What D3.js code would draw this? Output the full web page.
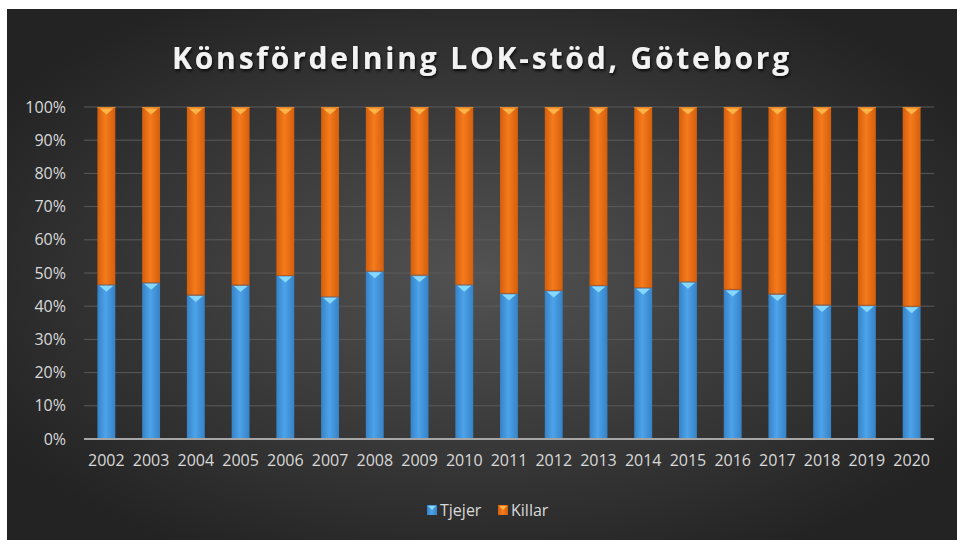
<!DOCTYPE html>
<html>
<head>
<meta charset="utf-8">
<script src="https://cdn.jsdelivr.net/npm/d3@7"></script>
<style>
  body { margin: 0; background: #fff; }
  text { font-family: "Open Sans", "DejaVu Sans", sans-serif; }
</style>
</head>
<body>
<div id="chart"></div>
<script>
const years = ["2002", "2003", "2004", "2005", "2006", "2007", "2008", "2009", "2010", "2011",
               "2012", "2013", "2014", "2015", "2016", "2017", "2018", "2019", "2020"];
const tjejer = [46.6, 47.2, 43.5, 46.5, 49.4, 43.0, 50.7, 49.5, 46.6, 44.0,
                44.9, 46.4, 45.7, 47.5, 45.2, 43.8, 40.5, 40.4, 40.1];
const killar = tjejer.map(v => 100 - v);
const seriesNames = ["Tjejer", "Killar"];
const yTicks = [0, 10, 20, 30, 40, 50, 60, 70, 80, 90, 100];

const W = 957, H = 540;
const margin = { left: 84, right: 23, top: 107, bottom: 101 };

const svg = d3.select("#chart").append("svg")
    .attr("width", W)
    .attr("height", H);

const defs = svg.append("defs");

// background
const bg = defs.append("radialGradient")
    .attr("id", "bg-grad")
    .attr("cx", "50%").attr("cy", "50%").attr("r", "60%");
bg.append("stop").attr("offset", "0%").attr("stop-color", "#525252");
bg.append("stop").attr("offset", "100%").attr("stop-color", "#232323");

svg.append("rect")
    .attr("x", 7).attr("y", 9)
    .attr("width", W - 7).attr("height", H - 9)
    .attr("fill", "url(#bg-grad)");

// bar gradients
function barGradient(id, edge, mid) {
    const g = defs.append("linearGradient")
        .attr("id", id)
        .attr("x1", "0%").attr("x2", "100%").attr("y1", "0%").attr("y2", "0%");
    g.append("stop").attr("offset", "0%").attr("stop-color", edge);
    g.append("stop").attr("offset", "45%").attr("stop-color", mid);
    g.append("stop").attr("offset", "100%").attr("stop-color", edge);
}
barGradient("blue-grad", "#3682c6", "#4da3ea");
barGradient("orange-grad", "#d45e0c", "#f57b1c");

const shadow = defs.append("filter").attr("id", "title-shadow")
    .attr("x", "-5%").attr("y", "-20%").attr("width", "110%").attr("height", "140%");
shadow.append("feDropShadow")
    .attr("dx", 1).attr("dy", 2).attr("stdDeviation", 1.5)
    .attr("flood-color", "#000").attr("flood-opacity", 0.8);

// title
svg.append("text")
    .attr("x", 482)
    .attr("y", 69)
    .attr("text-anchor", "middle")
    .attr("fill", "#f2f2f2")
    .attr("filter", "url(#title-shadow)")
    .style("font-size", "30px")
    .style("font-weight", "bold")
    .style("letter-spacing", "2.8px")
    .text("Könsfördelning LOK-stöd, Göteborg");

const x = d3.scaleBand()
    .domain(years)
    .range([margin.left, W - margin.right])
    .paddingInner(0.6)
    .paddingOuter(0.3);

const y = d3.scaleLinear()
    .domain([0, 100])
    .range([H - margin.bottom, margin.top]);

// grid
svg.append("g")
    .selectAll("line")
    .data(yTicks.filter(d => d > 0))
    .enter()
    .append("line")
    .attr("x1", margin.left)
    .attr("x2", W - margin.right)
    .attr("y1", d => y(d))
    .attr("y2", d => y(d))
    .attr("stroke", "#5a5a5a")
    .attr("stroke-width", 1);

// y axis labels
const yAxis = svg.append("g")
    .attr("transform", `translate(${margin.left - 18},0)`)
    .call(d3.axisLeft(y).tickValues(yTicks).tickFormat(d => d + "%").tickSize(0));
yAxis.select(".domain").remove();
yAxis.selectAll("text")
    .attr("fill", "#d9d9d9")
    .attr("x", 0)
    .style("font-size", "16px");

// stacked bars
const rows = years.map((yr, i) => ({ year: yr, Tjejer: tjejer[i], Killar: killar[i] }));
const stack = d3.stack().keys(seriesNames)(rows);
const fills = { Tjejer: "url(#blue-grad)", Killar: "url(#orange-grad)" };
const tips = { Tjejer: "#86d8ff", Killar: "#ffb44a" };

const layers = svg.append("g")
    .selectAll("g")
    .data(stack)
    .enter()
    .append("g");

layers.selectAll("rect")
    .data(d => d.map(p => ({ key: d.key, p })))
    .enter()
    .append("rect")
    .attr("x", d => x(d.p.data.year))
    .attr("y", d => y(d.p[1]))
    .attr("width", x.bandwidth())
    .attr("height", d => y(d.p[0]) - y(d.p[1]))
    .attr("fill", d => fills[d.key]);

// bevel: dark seam + light chevron at each segment top
layers.selectAll("line.seam")
    .data(d => d.map(p => ({ key: d.key, p })))
    .enter()
    .append("line")
    .attr("class", "seam")
    .attr("x1", d => x(d.p.data.year))
    .attr("x2", d => x(d.p.data.year) + x.bandwidth())
    .attr("y1", d => y(d.p[1]) + 0.5)
    .attr("y2", d => y(d.p[1]) + 0.5)
    .attr("stroke", d => d.key === "Tjejer" ? "#b9551a" : "#e88a2a")
    .attr("stroke-width", 1);

layers.selectAll("path.tip")
    .data(d => d.map(p => ({ key: d.key, p })))
    .enter()
    .append("path")
    .attr("class", "tip")
    .attr("d", d => {
        const x0 = x(d.p.data.year) + 2, x1 = x(d.p.data.year) + x.bandwidth() - 2;
        const yt = y(d.p[1]) + 1.5;
        return `M${x0},${yt} L${x1},${yt} L${(x0 + x1) / 2},${yt + 6} Z`;
    })
    .attr("fill", d => tips[d.key]);

// baseline
svg.append("line")
    .attr("x1", margin.left)
    .attr("x2", W - margin.right)
    .attr("y1", y(0))
    .attr("y2", y(0))
    .attr("stroke", "#a6a6a6")
    .attr("stroke-width", 2);

// x labels
const xAxis = svg.append("g")
    .attr("transform", `translate(0,${y(0) + 13})`)
    .call(d3.axisBottom(x).tickSize(0));
xAxis.select(".domain").remove();
xAxis.selectAll("text")
    .attr("fill", "#d9d9d9")
    .attr("dy", "0.71em")
    .style("font-size", "16px");

// legend
const legend = svg.append("g").attr("transform", "translate(427,510)");
const legendItems = [
    { name: "Tjejer", dx: 0, fill: "url(#blue-grad)", tip: tips.Tjejer },
    { name: "Killar", dx: 71, fill: "url(#orange-grad)", tip: tips.Killar }
];
const li = legend.selectAll("g")
    .data(legendItems)
    .enter()
    .append("g")
    .attr("transform", d => `translate(${d.dx},0)`);
li.append("rect")
    .attr("x", 0).attr("y", -5)
    .attr("width", 10).attr("height", 10)
    .attr("fill", d => d.fill);
li.append("path")
    .attr("d", "M1,-4 L9,-4 L5,0 Z")
    .attr("fill", d => d.tip);
li.append("text")
    .attr("x", 13)
    .attr("y", 0)
    .attr("dy", "0.35em")
    .attr("fill", "#d9d9d9")
    .style("font-size", "16px")
    .text(d => d.name);
</script>
</body>
</html>
